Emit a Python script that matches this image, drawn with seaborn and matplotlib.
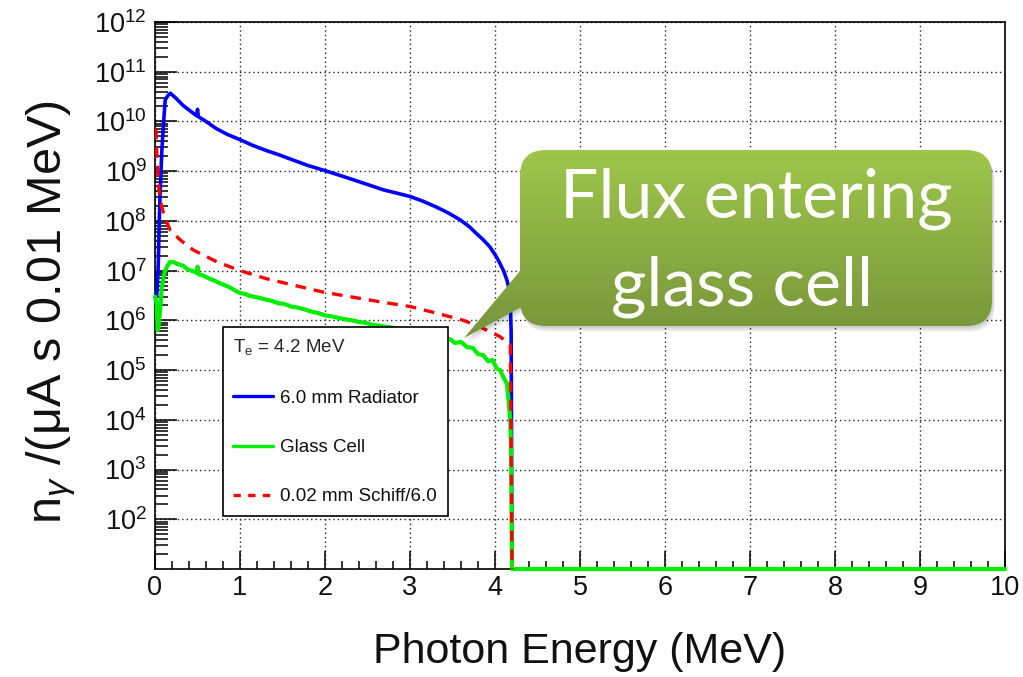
import numpy as np
import pandas as pd
import seaborn as sns
import matplotlib.pyplot as plt
import matplotlib.colors as mcolors
from matplotlib.lines import Line2D
from matplotlib.patches import FancyBboxPatch, Polygon
from matplotlib.ticker import LogLocator, MultipleLocator, LogFormatterMathtext, NullFormatter

# Bremsstrahlung photon spectra (photons per uA per s per 0.01 MeV bin)
radiator_e = [0.02, 0.03, 0.04, 0.05, 0.06, 0.07, 0.08, 0.10, 0.12, 0.15, 0.18, 0.25,
              0.33, 0.42, 0.49, 0.50, 0.51, 0.60, 0.72, 0.85, 1.00, 1.15, 1.31, 1.47,
              1.63, 1.80, 1.98, 2.14, 2.29, 2.50, 2.69, 2.85, 3.00, 3.15, 3.31, 3.45,
              3.59, 3.70, 3.78, 3.86, 3.94, 4.00, 4.04, 4.10, 4.14, 4.16, 4.18, 4.19, 4.20]
radiator_n = [3.0e6, 6.0e6, 1.6e7, 1.0e8, 3.5e8, 9.0e8, 2.5e9, 9.0e9, 2.7e10, 3.3e10, 3.7e10, 2.9e10,
              2.1e10, 1.6e10, 1.3e10, 1.75e10, 1.25e10, 1.0e10, 7.2e9, 5.5e9, 4.3e9, 3.3e9, 2.6e9, 2.1e9,
              1.66e9, 1.3e9, 1.05e9, 8.6e8, 7.1e8, 5.4e8, 4.2e8, 3.6e8, 3.1e8, 2.5e8, 1.9e8, 1.45e8,
              1.05e8, 7.6e7, 5.6e7, 4.2e7, 3.0e7, 2.1e7, 1.6e7, 1.0e7, 6.5e6, 4.7e6, 2.2e6, 6.0e5, 10]

glass_e = [0.00, 0.02, 0.03, 0.04, 0.06, 0.08, 0.11, 0.14, 0.18, 0.22, 0.27, 0.33, 0.38, 0.44,
           0.49, 0.50, 0.51, 0.57, 0.64, 0.70, 0.76, 0.82, 0.88, 0.94, 1.00, 1.06, 1.12, 1.18,
           1.24, 1.31, 1.38, 1.45, 1.52, 1.60, 1.68, 1.76, 1.84, 1.92, 2.00, 2.08, 2.16, 2.24,
           2.32, 2.40, 2.48, 2.56, 2.64, 2.72, 2.80, 2.90, 3.00, 3.10, 3.20, 3.30, 3.40, 3.47,
           3.53, 3.60, 3.67, 3.74, 3.80, 3.86, 3.92, 3.97, 4.02, 4.06, 4.10, 4.14, 4.16, 4.18,
           4.19, 4.20, 10.0]
glass_n = [3.0e6, 2.2e6, 6.3e5, 7.1e5, 1.6e6, 4.7e6, 8.9e6, 1.2e7, 1.5e7, 1.48e7, 1.35e7, 1.26e7, 1.07e7, 9.8e6,
           9.1e6, 1.2e7, 8.5e6, 7.9e6, 6.9e6, 6.3e6, 5.6e6, 5.1e6, 4.6e6, 4.0e6, 3.55e6, 3.4e6, 3.1e6, 2.95e6,
           2.8e6, 2.6e6, 2.45e6, 2.2e6, 2.15e6, 1.9e6, 1.8e6, 1.66e6, 1.5e6, 1.4e6, 1.26e6, 1.2e6, 1.12e6, 1.05e6,
           1.0e6, 9.3e5, 8.9e5, 8.1e5, 7.8e5, 7.4e5, 7.1e5, 6.6e5, 6.2e5, 5.8e5, 5.2e5, 4.8e5, 4.4e5, 4.2e5,
           3.5e5, 3.7e5, 2.9e5, 2.8e5, 2.1e5, 2.0e5, 1.5e5, 1.6e5, 1.07e5, 1.0e5, 7.1e4, 5.4e4, 2.5e4, 1.0e4,
           2.0e3, 10, 10]

schiff_e = [0.01, 0.02, 0.03, 0.04, 0.06, 0.08, 0.12, 0.18, 0.30, 0.45, 0.73, 1.00, 1.31,
            1.63, 1.98, 2.29, 2.69, 3.00, 3.31, 3.63, 3.86, 4.06, 4.18, 4.20]
schiff_n = [7.2e9, 2.5e9, 1.2e9, 5.6e8, 2.8e8, 1.9e8, 1.1e8, 6.5e7, 4.1e7, 2.6e7, 1.5e7, 1.0e7, 6.9e6,
            5.1e6, 3.7e6, 3.0e6, 2.3e6, 1.9e6, 1.4e6, 1.0e6, 6.9e5, 4.7e5, 3.2e5, 10]

series_labels = ["6.0 mm Radiator", "Glass Cell", "0.02 mm Schiff/6.0"]
legend_title = r"T$_{\mathrm{e}}$ = 4.2 MeV"
y_decades = list(range(2, 13))
x_ticks = list(range(0, 11))

BLUE, GREEN, RED = "#0000ff", "#00ee00", "#ff0000"

sns.set_theme(style="white")
plt.rcParams["font.family"] = ["Liberation Sans", "DejaVu Sans"]
plt.rcParams["mathtext.fontset"] = "custom"
plt.rcParams["mathtext.rm"] = "Liberation Sans"
plt.rcParams["mathtext.it"] = "Liberation Sans:italic"
plt.rcParams["mathtext.bf"] = "Liberation Sans:bold"

W, H = 1023, 677
fig = plt.figure(figsize=(W / 100, H / 100), dpi=100)
fig.patch.set_facecolor("white")
ax = fig.add_axes([155 / W, 1 - 569 / H, 850 / W, 547 / H])

rad = pd.DataFrame({"E": radiator_e, "n": radiator_n})
gls = pd.DataFrame({"E": glass_e, "n": glass_n})
sch = pd.DataFrame({"E": schiff_e, "n": schiff_n})

sns.lineplot(data=rad, x="E", y="n", ax=ax, color=BLUE, linewidth=2.6,
             estimator=None, sort=False, zorder=3)
sns.lineplot(data=gls, x="E", y="n", ax=ax, color=GREEN, linewidth=3.0,
             estimator=None, sort=False, zorder=3.1, clip_on=False)
sns.lineplot(data=sch, x="E", y="n", ax=ax, color=RED, linewidth=2.4,
             linestyle=(0, (3.2, 2.4)), estimator=None, sort=False, zorder=3.2)

ax.set_yscale("log")
ax.set_xlim(0, 10)
ax.set_ylim(10, 1e12)
ax.set_yticks([10.0 ** d for d in y_decades])
ax.yaxis.set_major_formatter(LogFormatterMathtext())
ax.yaxis.set_minor_locator(LogLocator(base=10, subs=np.arange(2, 10), numticks=100))
ax.yaxis.set_minor_formatter(NullFormatter())
ax.set_xticks(x_ticks)
ax.xaxis.set_minor_locator(MultipleLocator(0.2))

ax.grid(True, which="major", color="#222222", linestyle=(0, (1, 2.2)), linewidth=1.0)
ax.set_axisbelow(True)

for s in ax.spines.values():
    s.set_color("black")
    s.set_linewidth(1.2)

ax.tick_params(which="both", direction="in", color="black", width=1.1,
               left=True, bottom=True, top=False, right=False)
ax.tick_params(axis="y", which="major", length=16, pad=6, labelsize=19.5)
ax.tick_params(axis="y", which="minor", length=9)
ax.tick_params(axis="x", which="major", length=13, pad=4, labelsize=19.5)
ax.tick_params(axis="x", which="minor", length=6)
for lab in ax.get_xticklabels() + ax.get_yticklabels():
    lab.set_color("#111111")

ax.set_xlabel("Photon Energy (MeV)", fontsize=31, color="#111111")
ax.xaxis.set_label_coords(0.5, -0.116)
ax.xaxis.label.set_va("top")
ax.set_ylabel(r"n$_{\gamma}$ /(μA s 0.01 MeV)", fontsize=35, color="#111111")
ax.yaxis.set_label_coords(-0.090, 0.47)

handles = [Line2D([], [], color=BLUE, lw=2.4),
           Line2D([], [], color=GREEN, lw=2.4),
           Line2D([], [], color=RED, lw=2.4, linestyle=(0, (2.2, 2.2)))]
leg = ax.legend(handles, series_labels, title=legend_title, title_fontsize=13.5,
                fontsize=13.5, loc="upper left",
                bbox_to_anchor=(0.080, 0.0987, 0.2647, 0.3437), mode="expand",
                frameon=True, fancybox=False, framealpha=1, edgecolor="black",
                handlelength=2.1, handletextpad=0.4, labelspacing=1.72,
                borderpad=0.55, borderaxespad=0, alignment="left")
leg.get_frame().set_linewidth(1.2)
leg.set_zorder(6)
for t in leg.get_texts():
    t.set_color("#111111")

# Callout annotation in figure pixel coordinates
note = fig.add_axes([0, 0, 1, 1], zorder=10)
note.set_xlim(0, W)
note.set_ylim(H, 0)
note.axis("off")

bx0, by0, bx1, by1 = 520, 150, 992, 326
tip = (464, 338)
tri_pts = [(bx0 + 20, 247), tip, (bx0 + 20, 297)]

for off, a in [(6, 0.05), (4, 0.07), (2, 0.08)]:
    sh = FancyBboxPatch((bx0 + off * 0.5, by0 + off), bx1 - bx0, by1 - by0,
                        boxstyle="round,pad=0,rounding_size=26",
                        facecolor="black", edgecolor="none", alpha=a)
    note.add_patch(sh)
    note.add_patch(Polygon([(x + off * 0.5, y + off) for x, y in tri_pts],
                           closed=True, facecolor="black", edgecolor="none", alpha=a))

top_c = np.array(mcolors.to_rgb("#9ec64b"))
bot_c = np.array(mcolors.to_rgb("#77953a"))
g = np.linspace(0, 1, 256)[:, None, None]
grad = top_c + (bot_c - top_c) * g
extent = (tip[0] - 4, bx1 + 2, tip[1] + 2, by0)

box = FancyBboxPatch((bx0, by0), bx1 - bx0, by1 - by0,
                     boxstyle="round,pad=0,rounding_size=26",
                     facecolor="none", edgecolor="none")
note.add_patch(box)
tri = Polygon(tri_pts, closed=True, facecolor="none", edgecolor="none")
note.add_patch(tri)
im1 = note.imshow(grad, extent=extent, aspect="auto", interpolation="bilinear", zorder=2)
im1.set_clip_path(box)
im2 = note.imshow(grad, extent=extent, aspect="auto", interpolation="bilinear", zorder=2)
im2.set_clip_path(tri)
note.set_xlim(0, W)
note.set_ylim(H, 0)

note.text(756, 218, "Flux entering", ha="center", va="baseline", color="white",
          fontsize=49, family=["Lato", "DejaVu Sans"], zorder=3)
note.text(742, 305, "glass cell", ha="center", va="baseline", color="white",
          fontsize=49, family=["Lato", "DejaVu Sans"], zorder=3)

fig.savefig("out.png", dpi=100, facecolor="white")
